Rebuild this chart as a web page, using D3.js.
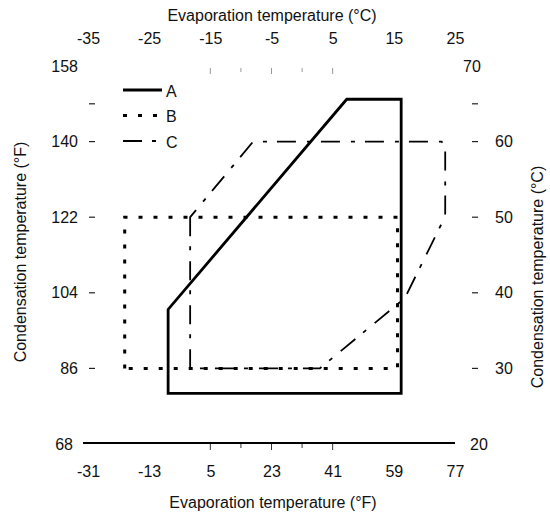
<!DOCTYPE html>
<html>
<head>
<meta charset="utf-8">
<script src="https://cdn.jsdelivr.net/npm/d3@7"></script>
<style>
  html, body { margin: 0; padding: 0; background: #fff; }
  svg { display: block; font-family: "Liberation Sans", Arial, sans-serif; }
  text { fill: #111; }
</style>
</head>
<body>
<svg id="chart" width="550" height="515"></svg>
<script>
// ---- data (°C) ----
const topTicksC = [-35, -25, -15, -5, 5, 15, 25];
const bottomTicksF = [-31, -13, 5, 23, 41, 59, 77];
const leftTicksF = [158, 140, 122, 104, 86, 68];
const rightTicksC = [70, 60, 50, 40, 30, 20];
const xTickMarksC = [-15, -10, -5, 0, 5];
const yTickMarksC = [65, 60, 50, 40, 30];

const seriesNames = ["A", "B", "C"];
// evaporation °C, condensation °C
const seriesA = [[-21.9, 26.7], [-21.9, 37.8], [7.3, 65.6], [16.2, 65.6], [16.2, 26.7]];
const seriesB = [[-29.0, 30.0], [-29.0, 50.0], [15.6, 50.0], [15.6, 30.0]];
const seriesC = [[-18.3, 50.0], [-18.3, 30.0], [2.9, 30.0], [16.8, 39.3], [22.9, 49.3],
                 [23.4, 50.5], [23.4, 59.5], [22.8, 60.0], [-8.0, 60.0]];

const svg = d3.select("#chart");
const x = d3.scaleLinear().domain([-35, 25]).range([88, 455]);
const y = d3.scaleLinear().domain([20, 70]).range([444, 66]);
const xF = d3.scaleLinear().domain([-31, 77]).range(x.range());
const yF = d3.scaleLinear().domain([68, 158]).range(y.range());

const styles = {
  A: { w: 2.8, dash: null },
  B: { w: 3, dash: "4,11" },
  C: { w: 1.8, dash: "19,10,4,11" }
};

// polygons
const line = d3.line().x(d => x(d[0])).y(d => y(d[1])).curve(d3.curveLinearClosed);
[["C", seriesC], ["B", seriesB], ["A", seriesA]].forEach(([k, data]) => {
  svg.append("path").attr("d", line(data))
    .attr("fill", "none").attr("stroke", "#000")
    .attr("stroke-width", styles[k].w)
    .attr("stroke-dasharray", styles[k].dash)
    .attr("stroke-linejoin", "miter");
});

// bottom axis line
svg.append("line").attr("x1", x(-35) - 5).attr("x2", x(25))
  .attr("y1", y(20) - 1).attr("y2", y(20) - 1)
  .attr("stroke", "#000").attr("stroke-width", 2);

// tick marks
xTickMarksC.forEach((v, i) => {
  const len = (i % 2 === 0) ? 6 : 4;
  svg.append("line").attr("x1", x(v)).attr("x2", x(v))
    .attr("y1", y(20)).attr("y2", y(20) + len).attr("stroke", "#333").attr("stroke-width", 1);
  svg.append("line").attr("x1", x(v)).attr("x2", x(v))
    .attr("y1", y(70) + 2).attr("y2", y(70) + 2 + len).attr("stroke", "#999").attr("stroke-width", 1);
});
yTickMarksC.forEach(v => {
  svg.append("line").attr("x1", 89).attr("x2", 95).attr("y1", y(v)).attr("y2", y(v))
    .attr("stroke", "#222").attr("stroke-width", 1.2);
  svg.append("line").attr("x1", 472).attr("x2", 478).attr("y1", y(v)).attr("y2", y(v))
    .attr("stroke", "#222").attr("stroke-width", 1.2);
});

const fmt = d => String(d);
function style(g) {
  g.select(".domain").remove();
  g.selectAll("text").attr("font-size", 16).attr("font-family", "Liberation Sans, Arial, sans-serif").attr("fill", "#111");
}
// top axis (°C)
svg.append("g").attr("transform", "translate(0,66)")
  .call(d3.axisTop(x).tickValues(topTicksC).tickFormat(fmt).tickSize(0).tickPadding(22))
  .call(style);
// bottom axis (°F)
svg.append("g").attr("transform", "translate(0,444)")
  .call(d3.axisBottom(xF).tickValues(bottomTicksF).tickFormat(fmt).tickSize(0).tickPadding(22))
  .call(style);
// left axis (°F)
const gl = svg.append("g").attr("transform", "translate(88,0)")
  .call(d3.axisLeft(yF).tickValues(leftTicksF).tickFormat(fmt).tickSize(0).tickPadding(10))
  .call(style);
gl.selectAll(".tick").filter(d => d === 68).select("text").attr("x", -15);
// right axis (°C)
const gr = svg.append("g").attr("transform", "translate(455,0)")
  .call(d3.axisRight(y).tickValues(rightTicksC).tickFormat(fmt).tickSize(0).tickPadding(40))
  .call(style);
gr.selectAll(".tick").filter(d => d === 70).select("text").attr("x", 8);
gr.selectAll(".tick").filter(d => d === 20).select("text").attr("x", 15);

// titles
svg.append("text").attr("x", 272).attr("y", 15).attr("text-anchor", "middle")
  .attr("dominant-baseline", "central").attr("font-size", 16)
  .text("Evaporation temperature (°C)");
svg.append("text").attr("x", 273).attr("y", 502).attr("text-anchor", "middle")
  .attr("dominant-baseline", "central").attr("font-size", 16)
  .text("Evaporation temperature (°F)");
svg.append("text").attr("transform", "translate(20,252) rotate(-90)")
  .attr("text-anchor", "middle").attr("dominant-baseline", "central").attr("font-size", 16)
  .text("Condensation temperature (°F)");
svg.append("text").attr("transform", "translate(537,277) rotate(-90)")
  .attr("text-anchor", "middle").attr("dominant-baseline", "central").attr("font-size", 16)
  .text("Condensation temperature (°C)");

// legend
const legY = d3.scalePoint().domain(seriesNames).range([90, 141]);
seriesNames.forEach(k => {
  svg.append("line").attr("x1", 123).attr("x2", 162)
    .attr("y1", legY(k)).attr("y2", legY(k))
    .attr("stroke", "#000").attr("stroke-width", styles[k].w)
    .attr("stroke-dasharray", styles[k].dash);
  svg.append("text").attr("x", 166).attr("y", legY(k) + 1)
    .attr("dominant-baseline", "central").attr("font-size", 16).text(k);
});
</script>
</body>
</html>
